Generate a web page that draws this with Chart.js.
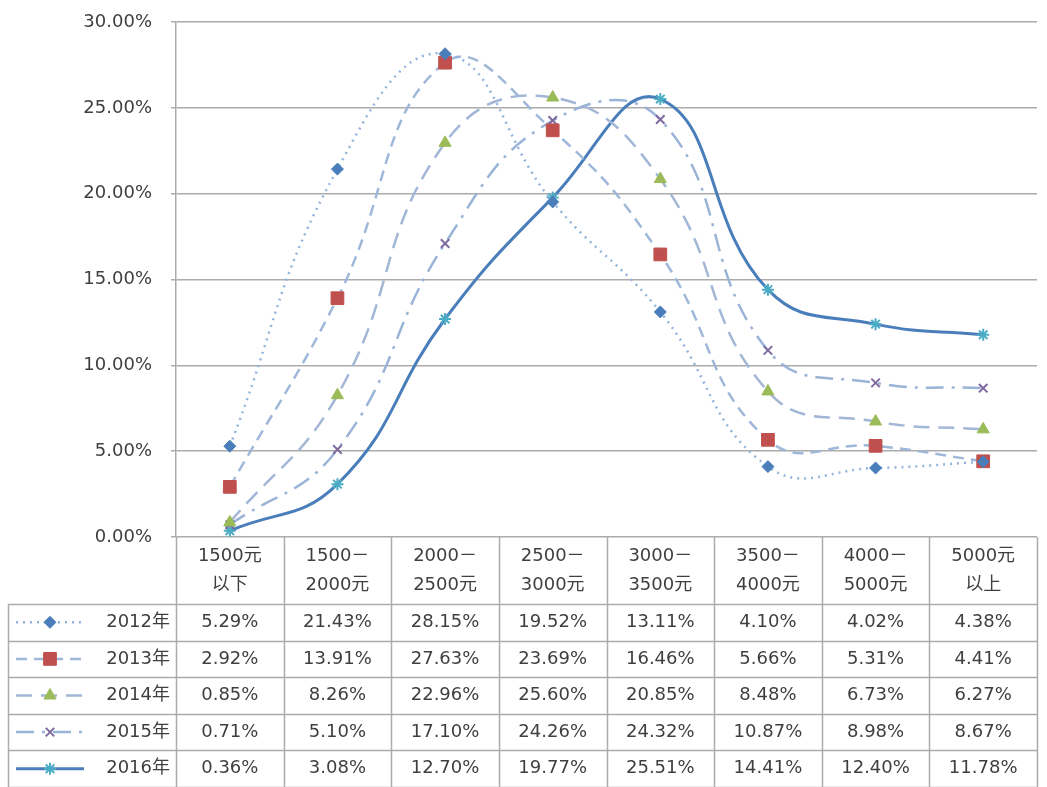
<!DOCTYPE html>
<html>
<head>
<meta charset="utf-8">
<script src="https://cdn.jsdelivr.net/npm/chart.js@4/dist/chart.umd.min.js"></script>
<style>
  html, body { margin: 0; padding: 0; background: #fff; }
  #wrap { position: relative; width: 1047px; height: 787px; }
</style>
</head>
<body>
<div id="wrap"><canvas id="incomeChart"></canvas></div>
<script>
// categories (two-line header labels)
const categories = [
  ['1500元', '以下'],
  ['1500－', '2000元'],
  ['2000－', '2500元'],
  ['2500－', '3000元'],
  ['3000－', '3500元'],
  ['3500－', '4000元'],
  ['4000－', '5000元'],
  ['5000元', '以上'],
];
const seriesNames = ['2012年', '2013年', '2014年', '2015年', '2016年'];
const values2012 = [5.29, 21.43, 28.15, 19.52, 13.11, 4.10, 4.02, 4.38];
const values2013 = [2.92, 13.91, 27.63, 23.69, 16.46, 5.66, 5.31, 4.41];
const values2014 = [0.85, 8.26, 22.96, 25.60, 20.85, 8.48, 6.73, 6.27];
const values2015 = [0.71, 5.10, 17.10, 24.26, 24.32, 10.87, 8.98, 8.67];
const values2016 = [0.36, 3.08, 12.70, 19.77, 25.51, 14.41, 12.40, 11.78];
const yTicks = [0, 5, 10, 15, 20, 25, 30];

const FONT = '"DejaVu Sans", "Noto Sans CJK SC", sans-serif';
const TEXT = '#3f3f3f';
const GRID = '#ababab';

function pct(v) {
  return v.toFixed(2) + '%';
}

// draws the data table under the plot, columns taken from the x scale
const dataTable = {
  id: 'dataTable',
  afterDraw(chart) {
    const ctx = chart.ctx;
    const area = chart.chartArea;
    const xs = chart.scales.x;
    const band = (area.right - area.left) / categories.length;
    const top = area.bottom;
    const headH = 67;
    const rowH = (chart.height - (top + headH)) / seriesNames.length;
    const tableLeft = 8;

    ctx.save();
    ctx.strokeStyle = GRID;
    ctx.lineWidth = 1.5;

    // vertical lines
    for (let i = 0; i <= categories.length; i++) {
      const x = Math.round(area.left + i * band) + 0.5;
      ctx.beginPath();
      ctx.moveTo(x, top);
      ctx.lineTo(x, chart.height);
      ctx.stroke();
    }
    ctx.beginPath();
    ctx.moveTo(tableLeft + 0.5, top + headH);
    ctx.lineTo(tableLeft + 0.5, chart.height);
    ctx.stroke();

    // horizontal lines
    for (let r = 0; r <= seriesNames.length; r++) {
      const y = Math.round(top + headH + r * rowH) + 0.5;
      ctx.beginPath();
      ctx.moveTo(tableLeft, y);
      ctx.lineTo(area.right, y);
      ctx.stroke();
    }

    // header
    ctx.fillStyle = TEXT;
    ctx.font = '18px ' + FONT;
    ctx.textAlign = 'center';
    ctx.textBaseline = 'middle';
    categories.forEach((lab, i) => {
      const cx = xs.getPixelForValue(i);
      ctx.fillText(lab[0], cx, top + 19);
      ctx.fillText(lab[1], cx, top + 48);
    });

    // rows
    chart.data.datasets.forEach((ds, r) => {
      const cy = top + headH + r * rowH + rowH / 2;
      ctx.fillStyle = TEXT;
      ctx.textAlign = 'center';
      ds.data.forEach((v, i) => {
        ctx.fillText(pct(v), xs.getPixelForValue(i), cy);
      });
      ctx.textAlign = 'right';
      ctx.fillText(ds.label, area.left - 6, cy);

      // legend key
      ctx.save();
      ctx.strokeStyle = ds.borderColor;
      ctx.lineWidth = ds.borderWidth;
      ctx.setLineDash(ds.borderDash || []);
      ctx.beginPath();
      ctx.moveTo(16, cy);
      ctx.lineTo(84, cy);
      ctx.stroke();
      ctx.setLineDash([]);
      ctx.fillStyle = ds.pointBackgroundColor;
      ctx.strokeStyle = ds.pointBorderColor;
      ctx.lineWidth = ds.pointBorderWidth;
      Chart.helpers.drawPoint(ctx, {
        pointStyle: ds.pointStyle,
        radius: ds.pointRadius,
        rotation: 0,
        borderWidth: ds.pointBorderWidth,
      }, 50, cy);
      ctx.restore();
    });
    ctx.restore();
  },
};

const ctx = document.getElementById('incomeChart');
new Chart(ctx, {
  type: 'line',
  data: {
    labels: categories.map((c) => c.join('')),
    datasets: [
      {
        label: seriesNames[0],
        data: values2012,
        borderColor: '#92b4dd',
        borderWidth: 2.5,
        borderDash: [2, 5],
        pointStyle: 'rectRot',
        pointRadius: 6,
        pointBackgroundColor: '#4a7ebb',
        pointBorderColor: '#4a7ebb',
        pointBorderWidth: 1,
      },
      {
        label: seriesNames[1],
        data: values2013,
        borderColor: '#9fb8da',
        borderWidth: 2.5,
        borderDash: [11, 7],
        pointStyle: 'rect',
        pointRadius: 9,
        pointBackgroundColor: '#c0504d',
        pointBorderColor: '#c0504d',
        pointBorderWidth: 1,
      },
      {
        label: seriesNames[2],
        data: values2014,
        borderColor: '#a2b6d6',
        borderWidth: 2.5,
        borderDash: [16, 9],
        pointStyle: 'triangle',
        pointRadius: 7,
        pointBackgroundColor: '#9bbb59',
        pointBorderColor: '#9bbb59',
        pointBorderWidth: 1,
      },
      {
        label: seriesNames[3],
        data: values2015,
        borderColor: '#9ab4d8',
        borderWidth: 2.5,
        borderDash: [18, 8, 3, 8],
        pointStyle: 'crossRot',
        pointRadius: 6,
        pointBackgroundColor: '#7f6a9f',
        pointBorderColor: '#7f6a9f',
        pointBorderWidth: 2,
      },
      {
        label: seriesNames[4],
        data: values2016,
        borderColor: '#4a7ebb',
        borderWidth: 3,
        borderDash: [],
        pointStyle: 'star',
        pointRadius: 6,
        pointBackgroundColor: '#4bacc6',
        pointBorderColor: '#4bacc6',
        pointBorderWidth: 2,
      },
    ],
  },
  options: {
    responsive: true,
    maintainAspectRatio: false,
    animation: false,
    devicePixelRatio: 1,
    layout: {
      padding: { top: 22, left: 0, right: 2, bottom: 250 },
    },
    elements: {
      line: { tension: 0.45, fill: false },
    },
    plugins: {
      legend: { display: false },
      tooltip: { enabled: false },
    },
    scales: {
      x: {
        display: false,
        offset: true,
      },
      y: {
        min: 0,
        max: 30,
        afterBuildTicks: function (scale) {
          scale.ticks = yTicks.map((v) => ({ value: v }));
        },
        afterFit: function (scale) {
          scale.width = 176;
          scale.paddingTop = 0;
          scale.paddingBottom = 0;
        },
        border: { display: true, color: GRID, width: 1.5 },
        grid: {
          color: GRID,
          lineWidth: 1.5,
          tickLength: 5,
        },
        ticks: {
          color: TEXT,
          padding: 19,
          font: { family: FONT, size: 18 },
          callback: function (value) {
            return pct(value);
          },
        },
      },
    },
  },
  plugins: [dataTable],
});
</script>
</body>
</html>
